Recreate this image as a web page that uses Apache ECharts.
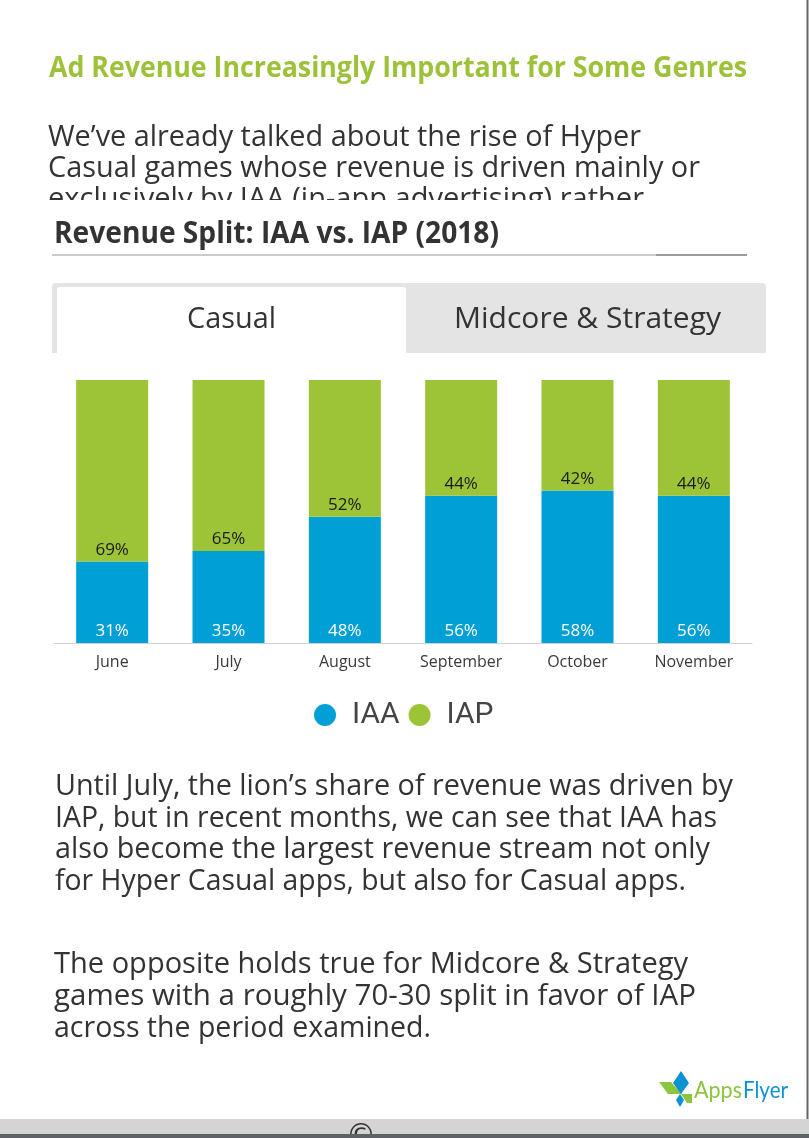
<!DOCTYPE html>
<html>
<head>
<meta charset="utf-8">
<script src="https://cdn.jsdelivr.net/npm/echarts@6/dist/echarts.min.js"></script>
<style>
html,body{margin:0;padding:0;background:#fff;}
#chart{width:809px;height:1138px;}
</style>
</head>
<body>
<div id="chart"></div>
<script>
// ---- data ----
const months = ['June', 'July', 'August', 'September', 'October', 'November'];
const iaaShare = [31, 35, 48, 56, 58, 56];
const iapShare = [69, 65, 52, 44, 42, 44];
const seriesNames = ['IAA', 'IAP'];
const tabLabels = ['Casual', 'Midcore & Strategy'];
const pageTitle = 'Ad Revenue Increasingly Important for Some Genres';
const chartTitle = 'Revenue Split: IAA vs. IAP (2018)';
const introLines = [
  'We\u2019ve already talked about the rise of Hyper',
  'Casual games whose revenue is driven mainly or',
  'exclusively by IAA (in-app advertising) rather'
];
const para2Lines = [
  'Until July, the lion\u2019s share of revenue was driven by',
  'IAP, but in recent months, we can see that IAA has',
  'also become the largest revenue stream not only',
  'for Hyper Casual apps, but also for Casual apps.'
];
const para3Lines = [
  'The opposite holds true for Midcore & Strategy',
  'games with a roughly 70-30 split in favor of IAP',
  'across the period examined.'
];

// ---- helpers ----
const mctx = document.createElement('canvas').getContext('2d');
function fitScale(str, font, w) { mctx.font = font; return w / mctx.measureText(str).width; }
function fitText(str, x, y, w, font, fill, align) {
  return {
    type: 'text', x: x, y: y, z: 10,
    scaleX: fitScale(str, font, w),
    style: { text: str, font: font, fill: fill, align: align || 'left', verticalAlign: 'middle' }
  };
}

const BODY = '30px "Open Sans", "Noto Sans", sans-serif';
const BOLD_T = 'bold 28px "Open Sans", "Noto Sans", sans-serif';
const BOLD_C = 'bold 30px "Open Sans", "Noto Sans", sans-serif';
const TAB = '29px "Open Sans", "Noto Sans", sans-serif';
const TXT = '#333333';

const graphics = [];
// right border
graphics.push({ type: 'rect', z: 1, shape: { x: 806.5, y: 0, width: 2, height: 1119 }, style: { fill: '#666666' } });
// page title
graphics.push(fitText(pageTitle, 49, 69, 698, BOLD_T, '#9dc23a'));
// intro paragraph
const introEnds = [641, 700, 644];
const introY = [137, 168, 199];
introLines.forEach((t, i) => graphics.push(fitText(t, 48, introY[i], introEnds[i] - 48, BODY, TXT)));
// cover to clip the third intro line
graphics.push({ type: 'rect', z: 20, shape: { x: 0, y: 200, width: 805, height: 82 }, style: { fill: '#ffffff' } });
// chart title
const ct = fitText(chartTitle, 54, 234.5, 445, BOLD_C, TXT); ct.z = 30; graphics.push(ct);
graphics.push({ type: 'rect', z: 30, shape: { x: 52, y: 254.5, width: 695, height: 1 }, style: { fill: '#9a9a9a' } });
graphics.push({ type: 'rect', z: 30, shape: { x: 656, y: 254, width: 91, height: 2 }, style: { fill: '#9a9a9a' } });
// tabs
graphics.push({ type: 'rect', z: 30, shape: { x: 52, y: 283, width: 714, height: 70, r: [4, 4, 0, 0] }, style: { fill: '#e4e4e4' } });
graphics.push({ type: 'rect', z: 31, shape: { x: 57, y: 287, width: 349, height: 66, r: [3, 3, 0, 0] }, style: { fill: '#ffffff' } });
const tab1 = fitText(tabLabels[0], 231.5, 320, 89, TAB, TXT, 'center'); tab1.z = 32; graphics.push(tab1);
const tab2 = fitText(tabLabels[1], 587.5, 320, 267, TAB, TXT, 'center'); tab2.z = 32; graphics.push(tab2);
// paragraph 2 and 3
const p2Ends = [733, 717, 710, 686];
const p2Y = [786, 818, 849, 881];
para2Lines.forEach((t, i) => graphics.push(fitText(t, 55, p2Y[i], p2Ends[i] - 55, BODY, TXT)));
const p3Ends = [688, 696, 431];
const p3Y = [964, 996, 1028];
para3Lines.forEach((t, i) => graphics.push(fitText(t, 54, p3Y[i], p3Ends[i] - 54, BODY, TXT)));
// logo
graphics.push({ type: 'polygon', z: 10, shape: { points: [[659, 1082], [671, 1082], [682, 1094], [668, 1094]] }, style: { fill: '#8cc63f' } });
graphics.push({ type: 'polygon', z: 11, shape: { points: [[681, 1071], [689, 1083], [681, 1094], [673, 1083]] }, style: { fill: '#0a92d4' } });
graphics.push({ type: 'polygon', z: 10, shape: { points: [[681, 1094], [692, 1094], [692, 1103], [687, 1103]] }, style: { fill: '#8cc63f' } });
graphics.push({ type: 'polygon', z: 11, shape: { points: [[680, 1094], [684, 1100], [680, 1107], [676, 1100]] }, style: { fill: '#0a92d4' } });
graphics.push(fitText('Apps', 694, 1090, 48, '24px "Lato", "Open Sans", sans-serif', '#8cc63f'));
graphics.push(fitText('Flyer', 743, 1090, 45, '24px "Lato", "Open Sans", sans-serif', '#0a92d4'));
// bottom bands
graphics.push({ type: 'rect', z: 40, shape: { x: 0, y: 1119, width: 809, height: 15 }, style: { fill: '#d4d4d4' } });
graphics.push({ type: 'text', z: 41, x: 361, y: 1122, style: { text: '\u00a9', font: '30px "DejaVu Sans", sans-serif', fill: '#333333', align: 'center', verticalAlign: 'top' } });
graphics.push({ type: 'rect', z: 42, shape: { x: 0, y: 1134, width: 809, height: 4 }, style: { fill: '#5f6266' } });

const chart = echarts.init(document.getElementById('chart'), null, { renderer: 'canvas' });
chart.setOption({
  backgroundColor: '#ffffff',
  animation: false,
  graphic: graphics,
  legend: {
    data: seriesNames,
    left: 309,
    top: 695,
    icon: 'circle',
    itemWidth: 44,
    itemHeight: 22,
    itemGap: 9,
    textStyle: { fontSize: 30, width: 42, overflow: 'none', color: '#444444', fontFamily: '"Liberation Sans Narrow", "Roboto", sans-serif' }
  },
  grid: { left: 54, right: 57, top: 380, bottom: 495, containLabel: false },
  xAxis: {
    type: 'category',
    data: months,
    axisLine: { lineStyle: { color: '#d3d3d3', width: 1 } },
    axisTick: { show: false },
    axisLabel: { color: '#3a3a3a', fontSize: 16, fontFamily: '"Open Sans", sans-serif', margin: 11 }
  },
  yAxis: { type: 'value', min: 0, max: 100, show: false, splitLine: { show: false } },
  series: [
    {
      name: seriesNames[0], type: 'bar', stack: 'share', data: iaaShare, barWidth: 72,
      itemStyle: { color: '#009fd6' },
      label: { show: true, position: 'insideBottom', distance: 3, color: '#ffffff', fontSize: 17, fontFamily: '"Open Sans", sans-serif', formatter: '{c}%' }
    },
    {
      name: seriesNames[1], type: 'bar', stack: 'share', data: iapShare, barWidth: 72,
      itemStyle: { color: '#9dc336' },
      label: { show: true, position: 'insideBottom', distance: 3, color: '#1a1a1a', fontSize: 17, fontFamily: '"Open Sans", sans-serif', formatter: '{c}%' }
    }
  ]
});
</script>
</body>
</html>
